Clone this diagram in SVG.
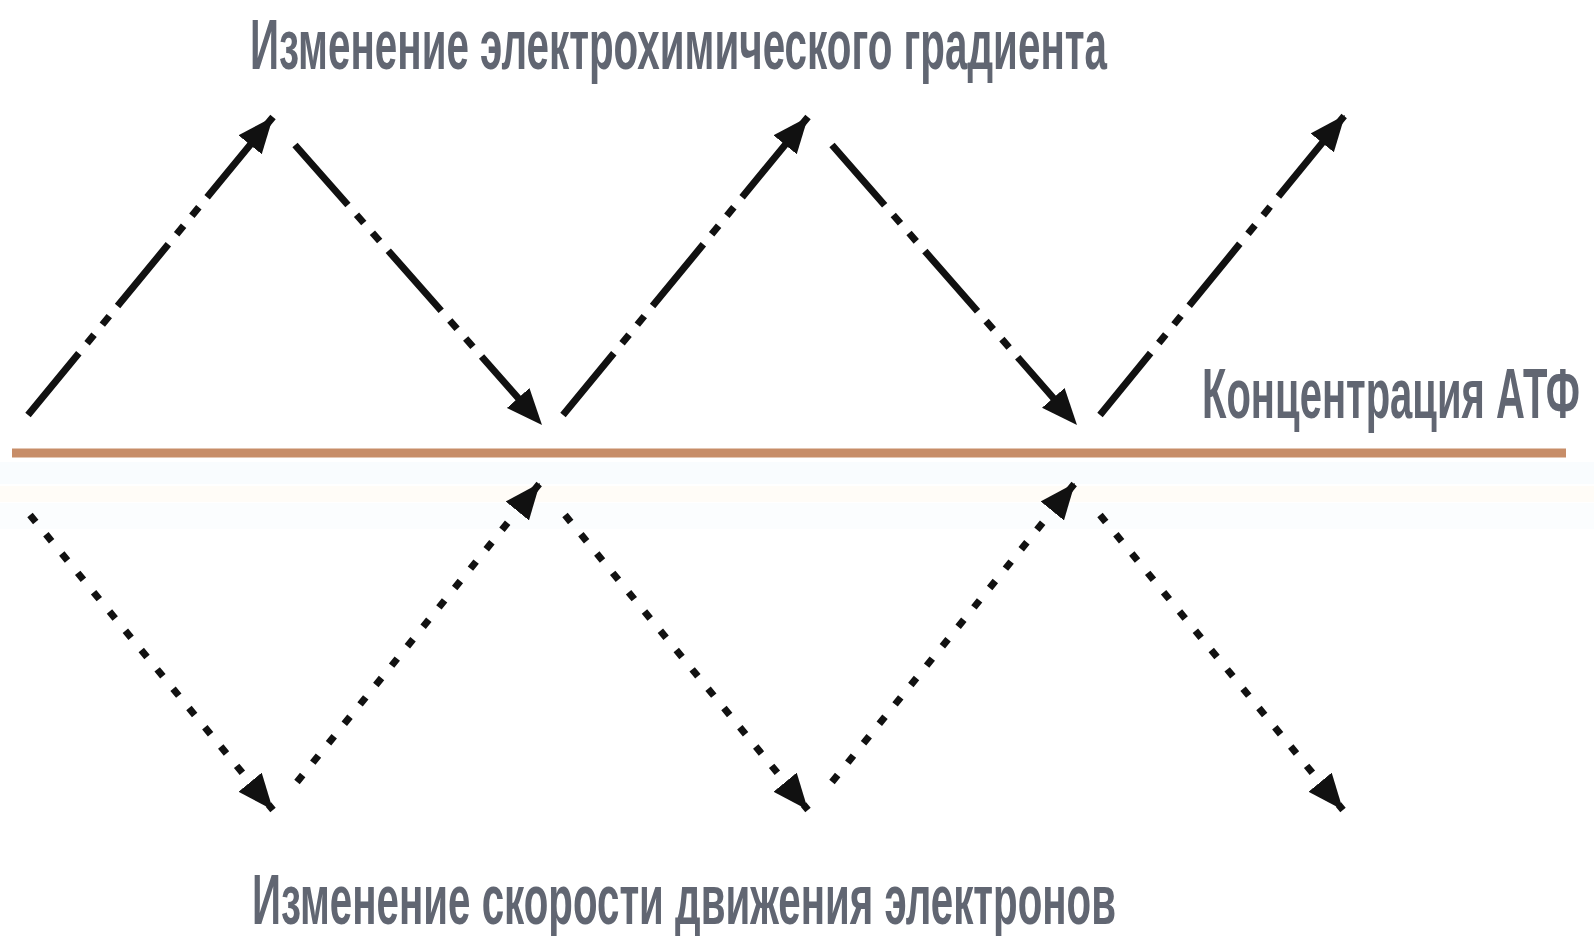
<svg xmlns="http://www.w3.org/2000/svg" width="1594" height="936" viewBox="0 0 1594 936">
<style>
.lbl{font-family:"Liberation Sans Narrow","Liberation Sans",Arial,sans-serif;font-size:71px;font-weight:bold;fill:#616672;}
.top{fill:none;stroke:#111;stroke-width:7;stroke-dasharray:80 13 11 13 11 13;marker-end:url(#ah);}
.bot{fill:none;stroke:#111;stroke-width:7;stroke-dasharray:9 16;marker-end:url(#ah);}
</style>
<defs>
<marker id="ah" markerUnits="userSpaceOnUse" markerWidth="38" markerHeight="32" refX="36" refY="15" orient="auto">
<path d="M0,0 L36,15 L0,30 Z" fill="#111"/>
</marker>
</defs>
<rect width="1594" height="936" fill="#ffffff"/>
<rect x="0" y="462" width="1594" height="22" fill="#f9fcfe"/>
<rect x="0" y="486" width="1594" height="16" fill="#fffcf7"/>
<rect x="0" y="503" width="1594" height="26" fill="#fbfdfe"/>
<g id="atp-line">
<line x1="12" y1="453" x2="1566" y2="453" stroke="#c78d68" stroke-width="9"/>
</g>
<g id="label-gradient">
<text class="lbl" x="250" y="69" textLength="857" lengthAdjust="spacingAndGlyphs">Изменение электрохимического градиента</text>
</g>
<g id="label-atp">
<text class="lbl" x="1202" y="418" textLength="378" lengthAdjust="spacingAndGlyphs">Концентрация АТФ</text>
</g>
<g id="label-electrons">
<text class="lbl" x="252" y="924" textLength="864" lengthAdjust="spacingAndGlyphs">Изменение скорости движения электронов</text>
</g>
<g id="connectors">
<line class="top" x1="28" y1="415" x2="273" y2="117"/>
<line class="top" x1="295" y1="145" x2="542" y2="425"/>
<line class="top" x1="563" y1="415" x2="808" y2="117"/>
<line class="top" x1="832" y1="145" x2="1077" y2="425"/>
<line class="top" x1="1100" y1="415" x2="1345" y2="115"/>
<line class="bot" x1="30" y1="515" x2="273" y2="810"/>
<line class="bot" x1="297" y1="782" x2="540" y2="483"/>
<line class="bot" x1="565" y1="515" x2="808" y2="810"/>
<line class="bot" x1="832" y1="782" x2="1075" y2="483"/>
<line class="bot" x1="1100" y1="515" x2="1343" y2="810"/>
</g>
</svg>
